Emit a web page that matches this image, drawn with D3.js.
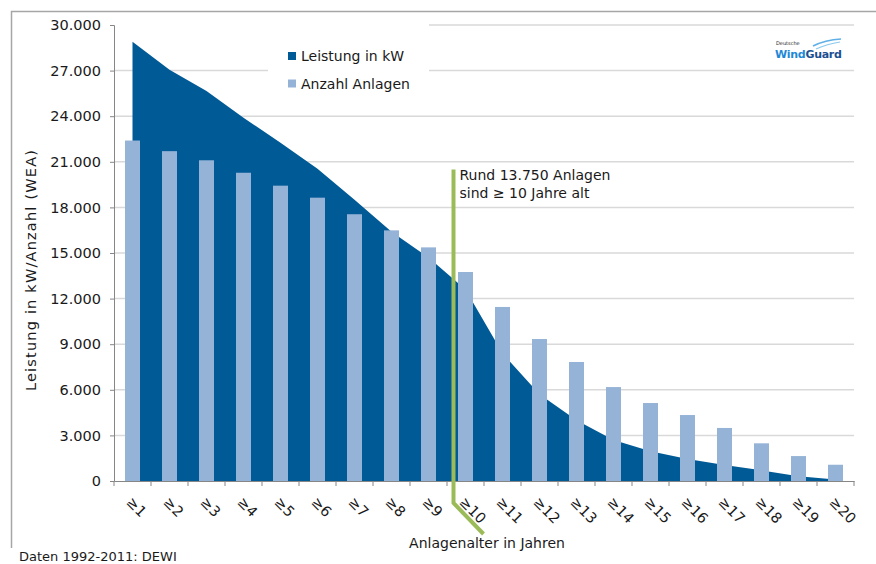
<!DOCTYPE html>
<html>
<head>
<meta charset="utf-8">
<script src="https://cdn.jsdelivr.net/npm/d3@7"></script>
<style>
  body { margin: 0; background: #fff; }
  svg text { font-family: "DejaVu Sans", sans-serif; fill: #1a1a1a; }
</style>
</head>
<body>
<div id="chart"></div>
<script>
// category labels (Anlagenalter)
const labels = ["≥1","≥2","≥3","≥4","≥5","≥6","≥7","≥8","≥9","≥10",
                "≥11","≥12","≥13","≥14","≥15","≥16","≥17","≥18","≥19","≥20"];
// Leistung in kW (area)
const leistung = [28900, 27050, 25650, 23900, 22250, 20550, 18500, 16400, 14700, 12600,
                  8400, 5700, 4000, 2700, 1950, 1450, 1050, 700, 320, 100];
// Anzahl Anlagen (bars)
const anlagen = [22400, 21700, 21100, 20280, 19430, 18640, 17550, 16490, 15370, 13750,
                 11450, 9340, 7830, 6180, 5130, 4340, 3490, 2480, 1640, 1070];
const yTicks = [0, 3000, 6000, 9000, 12000, 15000, 18000, 21000, 24000, 27000, 30000];

const W = 876, H = 564;
const dark = "#005a96", light = "#95b3d7", green = "#9bbb59";

const de = d3.formatLocale({decimal: ",", thousands: ".", grouping: [3], currency: ["", " €"]});
const fmt = de.format(",d");

const data = labels.map((d, i) => ({label: d, kw: leistung[i], n: anlagen[i]}));

const svg = d3.select("#chart").append("svg")
    .attr("width", W)
    .attr("height", H);

// outer frame (left + top visible)
svg.append("path")
    .attr("d", "M11.5,548 V11.5 H876")
    .attr("fill", "none")
    .attr("stroke", "#a6a6a6")
    .attr("stroke-width", 1.5);

const x = d3.scaleBand()
    .domain(labels)
    .range([114, 854])
    .padding(0);

const y = d3.scaleLinear()
    .domain([0, 30000])
    .range([481, 25]);

// gridlines
svg.append("g")
  .selectAll("line")
  .data(yTicks.filter(d => d > 0 && d < 30000))
  .join("line")
    .attr("x1", 114).attr("x2", 854)
    .attr("y1", d => y(d)).attr("y2", d => y(d))
    .attr("stroke", "#d9d9d9")
    .attr("stroke-width", 1.5);
svg.append("line")
    .attr("x1", 429).attr("x2", 854)
    .attr("y1", y(30000)).attr("y2", y(30000))
    .attr("stroke", "#d9d9d9")
    .attr("stroke-width", 1.5);

// area: Leistung
const area = d3.area()
    .x(d => x(d.label) + x.bandwidth() / 2)
    .y0(y(0))
    .y1(d => y(d.kw));
svg.append("path")
    .datum(data)
    .attr("d", area)
    .attr("fill", dark);

// bars: Anzahl Anlagen
const bw = 15;
svg.append("g")
  .selectAll("rect")
  .data(data)
  .join("rect")
    .attr("x", d => x(d.label) + (x.bandwidth() - bw) / 2)
    .attr("y", d => y(d.n))
    .attr("width", bw)
    .attr("height", d => y(0) - y(d.n))
    .attr("fill", light);

// Y axis
const yAxis = svg.append("g")
    .attr("transform", "translate(114,0)")
    .call(d3.axisLeft(y).tickValues(yTicks).tickFormat(fmt).tickSize(4).tickPadding(9));
yAxis.selectAll("path, line").attr("stroke", "#868686");
yAxis.selectAll("text").style("font-size", "14.5px").attr("fill", "#1a1a1a");

// X axis (labels)
const xAxis = svg.append("g")
    .attr("transform", `translate(0,${y(0)})`)
    .call(d3.axisBottom(x).tickSize(0).tickSizeOuter(0));
xAxis.select(".domain").attr("stroke", "#868686");
xAxis.selectAll("text")
    .style("font-size", "14.5px")
    .attr("fill", "#1a1a1a")
    .attr("text-anchor", "start")
    .attr("x", 0).attr("y", 0).attr("dy", null)
    .attr("transform", "translate(-7,22) rotate(45)");

// X tick marks at category boundaries
svg.append("g")
  .selectAll("line")
  .data(labels.concat(["end"]))
  .join("line")
    .attr("x1", (d, i) => x.range()[0] + i * x.step())
    .attr("x2", (d, i) => x.range()[0] + i * x.step())
    .attr("y1", y(0)).attr("y2", y(0) + 5)
    .attr("stroke", "#868686");

// axis titles
svg.append("text")
    .attr("transform", "translate(36,270) rotate(-90)")
    .attr("text-anchor", "middle")
    .style("font-size", "14.5px")
    .style("letter-spacing", "1.2px")
    .text("Leistung in kW/Anzahl (WEA)");

svg.append("text")
    .attr("x", 487).attr("y", 548)
    .attr("text-anchor", "middle")
    .style("font-size", "14px")
    .text("Anlagenalter in Jahren");

// source note
svg.append("text")
    .attr("x", 19).attr("y", 561)
    .style("font-size", "13px")
    .text("Daten 1992-2011: DEWI");

// legend
const lg = svg.append("g");
lg.append("rect")
    .attr("x", 268).attr("y", 28).attr("width", 161).attr("height", 72)
    .attr("fill", "#fff");
const legendItems = [["Leistung in kW", dark], ["Anzahl Anlagen", light]];
legendItems.forEach((d, i) => {
  lg.append("rect")
      .attr("x", 288).attr("y", 52 + i * 27.5)
      .attr("width", 8).attr("height", 8)
      .attr("fill", d[1]);
  lg.append("text")
      .attr("x", 301).attr("y", 61 + i * 27.5)
      .style("font-size", "14px")
      .text(d[0]);
});

// annotation: green marker line + text
const gx = x("≥10") + 6.5;
svg.append("path")
    .attr("d", `M${gx},${y(20500)} V${y(0) + 22} L${gx + 30},${y(0) + 53}`)
    .attr("fill", "none")
    .attr("stroke", green)
    .attr("stroke-width", 4);
svg.append("text")
    .attr("x", gx + 6).attr("y", 180)
    .style("font-size", "14px")
    .text("Rund 13.750 Anlagen");
svg.append("text")
    .attr("x", gx + 6).attr("y", 198)
    .style("font-size", "14px")
    .text("sind ≥ 10 Jahre alt");

// logo: Deutsche WindGuard
const logo = svg.append("g").attr("transform", "translate(775,0)");
logo.append("text")
    .attr("x", 1).attr("y", 45)
    .style("font-size", "5px")
    .attr("fill", "#3a78c0")
    .text("Deutsche");
const wg = logo.append("text")
    .attr("x", 0).attr("y", 58)
    .style("font-size", "11px")
    .style("font-weight", "bold")
    .style("letter-spacing", "-0.3px");
wg.append("tspan").attr("fill", "#1e88d8").text("Wind");
wg.append("tspan").attr("fill", "#1c4f92").text("Guard");
logo.append("path")
    .attr("d", "M38,46 Q50,40 66,39")
    .attr("fill", "none").attr("stroke", "#5fb0e8").attr("stroke-width", 1.6);
logo.append("path")
    .attr("d", "M41,49 Q52,44 65,42")
    .attr("fill", "none").attr("stroke", "#8cc8ef").attr("stroke-width", 1.2);
</script>
</body>
</html>
